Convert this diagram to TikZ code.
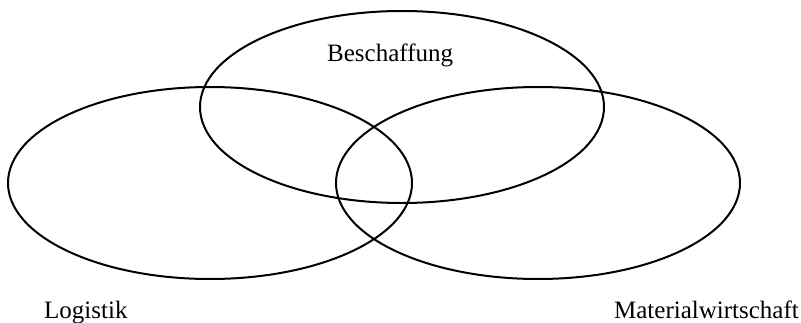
\documentclass[tikz,border=0pt]{standalone}
\usepackage{fontspec}
\setmainfont{Liberation Serif}
\usetikzlibrary{shapes.geometric}
\begin{document}
\begin{tikzpicture}[x=1pt,y=-1pt,
  setellipse/.style={ellipse,draw=black,line width=2pt,inner sep=0pt,
    minimum width=404pt,minimum height=192pt},
  setlabel/.style={inner sep=0pt,font=\fontsize{25}{30}\selectfont}]
\useasboundingbox (0,0) rectangle (801,323);
\node[setellipse] (besch) at (402,107) {};
\node[setellipse] (logi) at (210,183) {};
\node[setellipse] (mat) at (538,183) {};
\node[setlabel,anchor=base west] (lbesch) at (327,62) {Beschaffung};
\node[setlabel,anchor=base west] (llogi) at (44,318) {Logistik};
\node[setlabel,anchor=base east] (lmat) at (799,318) {Materialwirtschaft};
\end{tikzpicture}
\end{document}
